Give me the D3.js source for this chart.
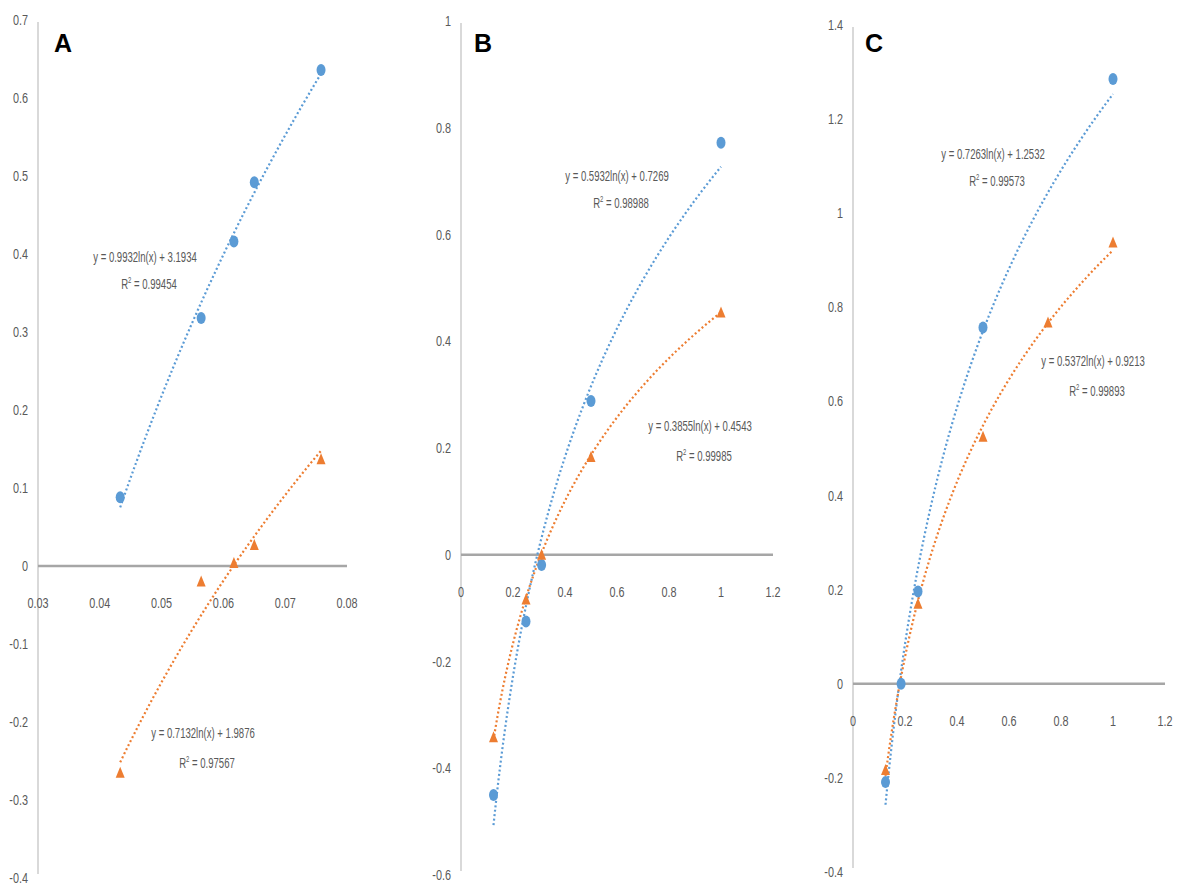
<!DOCTYPE html>
<html>
<head>
<meta charset="utf-8">
<script src="https://cdn.jsdelivr.net/npm/d3@7"></script>
<style>
  body { margin: 0; background: #fff; }
  svg { display: block; }
  .tick-label { font-family: "Liberation Sans", Arial, sans-serif; font-size: 15.5px; fill: #595959; }
  .eq { font-family: "Liberation Sans", Arial, sans-serif; font-size: 14.5px; fill: #595959; }
  .letter { font-family: "Liberation Sans", Arial, sans-serif; font-size: 25px; font-weight: bold; fill: #000; }
</style>
</head>
<body>
<svg id="chart" width="1178" height="885"></svg>
<script>
const BLUE = '#5b9bd5';
const ORANGE = '#ed7d31';

// panel letters
const panelLetters = ['A', 'B', 'C'];

// axis domains and ticks
const xDomainA = [0.03, 0.08];
const yDomainA = [-0.4, 0.7];
const xTicksA = [0.03, 0.04, 0.05, 0.06, 0.07, 0.08];
const yTicksA = [-0.4, -0.3, -0.2, -0.1, 0, 0.1, 0.2, 0.3, 0.4, 0.5, 0.6, 0.7];

const xDomainB = [0, 1.2];
const yDomainB = [-0.6, 1];
const xTicksB = [0, 0.2, 0.4, 0.6, 0.8, 1, 1.2];
const yTicksB = [-0.6, -0.4, -0.2, 0, 0.2, 0.4, 0.6, 0.8, 1];

const xDomainC = [0, 1.2];
const yDomainC = [-0.4, 1.4];
const xTicksC = [0, 0.2, 0.4, 0.6, 0.8, 1, 1.2];
const yTicksC = [-0.4, -0.2, 0, 0.2, 0.4, 0.6, 0.8, 1, 1.2, 1.4];

// series values (blue circles, orange triangles)
const blueXA = [0.0433, 0.0564, 0.0617, 0.0650, 0.0758];
const blueYA = [0.088, 0.318, 0.416, 0.492, 0.636];
const orangeXA = [0.0433, 0.0564, 0.0617, 0.0650, 0.0758];
const orangeYA = [-0.265, -0.02, 0.004, 0.027, 0.137];

const blueXB = [0.125, 0.25, 0.31, 0.5, 1];
const blueYB = [-0.45, -0.125, -0.019, 0.288, 0.772];
const orangeXB = [0.125, 0.25, 0.31, 0.5, 1];
const orangeYB = [-0.342, -0.084, 0.0, 0.183, 0.454];

const blueXC = [0.125, 0.185, 0.25, 0.5, 1];
const blueYC = [-0.209, 0.0, 0.196, 0.757, 1.285];
const orangeXC = [0.125, 0.25, 0.5, 0.75, 1];
const orangeYC = [-0.183, 0.17, 0.525, 0.768, 0.938];

// log trendline coefficients [a, b] for y = a ln(x) + b, and R²
const blueFit = [[0.9932, 3.1934], [0.5932, 0.7269], [0.7263, 1.2532]];
const orangeFit = [[0.7132, 1.9876], [0.3855, 0.4543], [0.5372, 0.9213]];
const blueR2 = ['0.99454', '0.98988', '0.99573'];
const orangeR2 = ['0.97567', '0.99985', '0.99893'];

// layout per panel (pixel ranges, label spots)
const panels = [
    { x: xDomainA, y: yDomainA, xt: xTicksA, yt: yTicksA, bx: blueXA, by: blueYA, ox: orangeXA, oy: orangeYA,
      xr: [38, 347], yr: [878, 20], letterAt: [54, 52],
      blueLabel: [145, 262], orangeLabel: [203, 738] },
    { x: xDomainB, y: yDomainB, xt: xTicksB, yt: yTicksB, bx: blueXB, by: blueYB, ox: orangeXB, oy: orangeYB,
      xr: [461, 773], yr: [875, 21], letterAt: [474, 52],
      blueLabel: [617, 181], orangeLabel: [700, 431] },
    { x: xDomainC, y: yDomainC, xt: xTicksC, yt: yTicksC, bx: blueXC, by: blueYC, ox: orangeXC, oy: orangeYC,
      xr: [853, 1165], yr: [872, 25], letterAt: [865, 52],
      blueLabel: [993, 159], orangeLabel: [1093, 366] }
];

const svg = d3.select('#chart');
const fmt = d => (d === 0 ? '0' : String(+d.toFixed(2)));

// text drawn narrow like the squeezed original
function narrowText(g, x, y, str, cls, anchor, sx) {
    return g.append('text')
        .attr('class', cls)
        .attr('text-anchor', anchor)
        .attr('transform', `translate(${x},${y}) scale(${sx},1)`)
        .text(str);
}

panels.forEach((p, i) => {
    const g = svg.append('g');
    const xs = d3.scaleLinear().domain(p.x).range(p.xr);
    const ys = d3.scaleLinear().domain(p.y).range(p.yr);
    const y0 = ys(0);

    // vertical axis
    g.append('line')
        .attr('x1', xs(p.x[0])).attr('x2', xs(p.x[0]))
        .attr('y1', ys(p.y[1]) + 2).attr('y2', ys(p.y[0]) - 4)
        .style('stroke', '#cccccc').style('stroke-width', 1.5);

    // horizontal axis at zero
    g.append('line')
        .attr('x1', xs(p.x[0])).attr('x2', xs(p.x[1]))
        .attr('y1', y0).attr('y2', y0)
        .style('stroke', '#a6a6a6').style('stroke-width', 2.5);

    // y tick labels
    p.yt.forEach(v => {
        narrowText(g, xs(p.x[0]) - 10, ys(v) + 5, fmt(v), 'tick-label', 'end', 0.7);
    });

    // x tick labels
    p.xt.forEach(v => {
        narrowText(g, xs(v), y0 + 42, fmt(v), 'tick-label', 'middle', 0.7);
    });

    // trendlines
    const line = d3.line().x(d => xs(d[0])).y(d => ys(d[1]));
    const drawFit = (fit, xsData, color) => {
        const lo = d3.min(xsData), hi = d3.max(xsData);
        const pts = d3.range(0, 81).map(k => {
            const xv = lo * Math.pow(hi / lo, k / 80);
            return [xv, fit[0] * Math.log(xv) + fit[1]];
        });
        g.append('path')
            .attr('d', line(pts))
            .style('fill', 'none')
            .style('stroke', color)
            .style('stroke-width', 2.2)
            .style('stroke-dasharray', '2,2.5');
    };
    drawFit(blueFit[i], p.bx, BLUE);
    drawFit(orangeFit[i], p.ox, ORANGE);

    // blue circle markers
    g.selectAll('ellipse.blue')
        .data(d3.zip(p.bx, p.by))
        .enter()
        .append('ellipse')
        .attr('cx', d => xs(d[0]))
        .attr('cy', d => ys(d[1]))
        .attr('rx', 4.5)
        .attr('ry', 6)
        .style('fill', BLUE);

    // orange triangle markers
    g.selectAll('path.tri')
        .data(d3.zip(p.ox, p.oy))
        .enter()
        .append('path')
        .attr('transform', d => `translate(${xs(d[0])},${ys(d[1])})`)
        .attr('d', 'M0,-6L4.5,5L-4.5,5Z')
        .style('fill', ORANGE);

    // equation labels
    const eq = fit => `y = ${fit[0].toFixed(4)}ln(x) + ${fit[1].toFixed(4)}`;
    const bl = p.blueLabel, ol = p.orangeLabel;
    narrowText(g, bl[0], bl[1], eq(blueFit[i]), 'eq', 'middle', 0.66);
    const r1 = narrowText(g, bl[0] + 4, bl[1] + 27, '', 'eq', 'middle', 0.66);
    r1.append('tspan').text('R');
    r1.append('tspan').attr('dy', -6).style('font-size', '9px').text('2');
    r1.append('tspan').attr('dy', 6).text(' = ' + blueR2[i]);

    narrowText(g, ol[0], ol[1], eq(orangeFit[i]), 'eq', 'middle', 0.66);
    const r2 = narrowText(g, ol[0] + 4, ol[1] + 30, '', 'eq', 'middle', 0.66);
    r2.append('tspan').text('R');
    r2.append('tspan').attr('dy', -6).style('font-size', '9px').text('2');
    r2.append('tspan').attr('dy', 6).text(' = ' + orangeR2[i]);

    // panel letter
    g.append('text')
        .attr('class', 'letter')
        .attr('x', p.letterAt[0])
        .attr('y', p.letterAt[1])
        .text(panelLetters[i]);
});
</script>
</body>
</html>
